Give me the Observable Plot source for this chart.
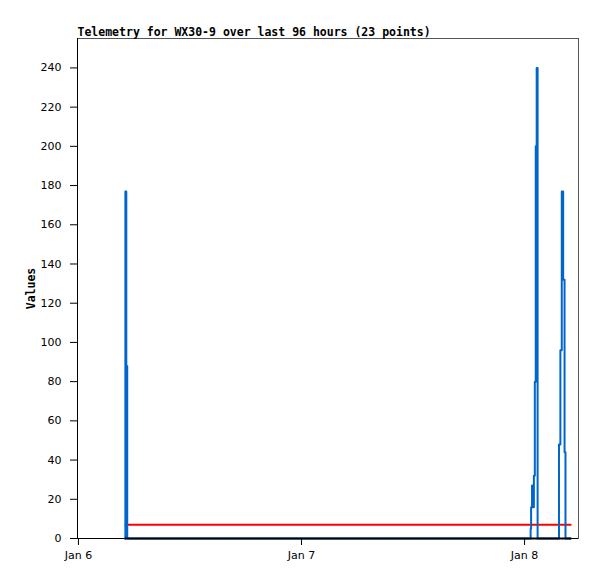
<!DOCTYPE html>
<html>
<head>
<meta charset="utf-8">
<script src="https://cdn.jsdelivr.net/npm/d3@7"></script>
<script src="https://cdn.jsdelivr.net/npm/@observablehq/plot@0.6"></script>
<style>
  html, body { margin: 0; padding: 0; background: white; }
</style>
</head>
<body>
<div id="chart"></div>
<script>
const titleText = "Telemetry for WX30-9 over last 96 hours (23 points)";
const yLabel = "Values";

const times = [
  "2024-01-06T05:00Z", "2024-01-06T05:03Z", "2024-01-06T05:09Z", "2024-01-06T05:15Z",
  "2024-01-08T00:33Z", "2024-01-08T00:39Z", "2024-01-08T00:42Z", "2024-01-08T00:48Z",
  "2024-01-08T00:54Z", "2024-01-08T01:00Z", "2024-01-08T01:06Z", "2024-01-08T01:12Z",
  "2024-01-08T01:18Z", "2024-01-08T01:24Z",
  "2024-01-08T03:36Z", "2024-01-08T03:42Z", "2024-01-08T03:45Z", "2024-01-08T03:51Z",
  "2024-01-08T04:00Z", "2024-01-08T04:09Z", "2024-01-08T04:18Z", "2024-01-08T04:24Z",
  "2024-01-08T04:57Z"
];
const values = [
  0, 177, 88, 0,
  0, 5, 16, 27,
  16, 32, 80, 200,
  240, 0,
  0, 48, 48, 96,
  177, 132, 44, 0,
  0
];

const thresholdTimes = ["2024-01-06T05:03Z", "2024-01-08T04:57Z"];
const thresholdValues = [7, 7];
const baselineValues = [0, 0];

const yTicks = [0, 20, 40, 60, 80, 100, 120, 140, 160, 180, 200, 220, 240];
const xTicks = ["2024-01-06T00:00Z", "2024-01-07T00:00Z", "2024-01-08T00:00Z"];
const xDomain = ["2024-01-05T23:54Z", "2024-01-08T05:48Z"];
const yDomain = [0, 255];

const data = times.map((t, i) => ({t: new Date(t), v: values[i]}));
const threshold = thresholdTimes.map((t, i) => ({t: new Date(t), v: thresholdValues[i]}));
const baseline = thresholdTimes.map((t, i) => ({t: new Date(t), v: baselineValues[i]}));

const chart = Plot.plot({
  width: 597,
  height: 579,
  marginLeft: 77,
  marginRight: 19,
  marginTop: 38,
  marginBottom: 41,
  style: {fontFamily: "DejaVu Sans", fontSize: "11px", background: "white", color: "black"},
  x: {type: "utc", domain: xDomain.map(d => new Date(d))},
  y: {domain: yDomain},
  marks: [
    Plot.frame({stroke: "#555", strokeWidth: 1}),
    Plot.axisY({ticks: yTicks, tickSize: 7, tickPadding: 9, label: null}),
    Plot.axisX({ticks: xTicks.map(d => new Date(d)), tickFormat: d3.utcFormat("%b %-d"), tickSize: 7, tickPadding: 6, label: null}),
    Plot.ruleX([new Date(xDomain[0])], {stroke: "black", strokeWidth: 1}),
    Plot.ruleY([0], {stroke: "black", strokeWidth: 1}),
    Plot.line(threshold, {x: "t", y: "v", stroke: "#ff0000", strokeWidth: 2}),
    Plot.line(data, {x: "t", y: "v", stroke: "#0066cc", strokeWidth: 2, curve: "step-after"}),
    Plot.line(baseline, {x: "t", y: "v", stroke: "black", strokeWidth: 2}),
    Plot.text([titleText], {frameAnchor: "top-left", textAnchor: "start", lineAnchor: "bottom", dy: -3,
      fontFamily: "DejaVu Sans Mono", fontWeight: "bold", fontSize: 11.5, fill: "black"}),
    Plot.text([yLabel], {frameAnchor: "left", dx: -46, rotate: -90, textAnchor: "middle",
      fontFamily: "DejaVu Sans Mono", fontWeight: "bold", fontSize: 11.5, fill: "black"})
  ]
});
document.getElementById("chart").appendChild(chart);
</script>
</body>
</html>
